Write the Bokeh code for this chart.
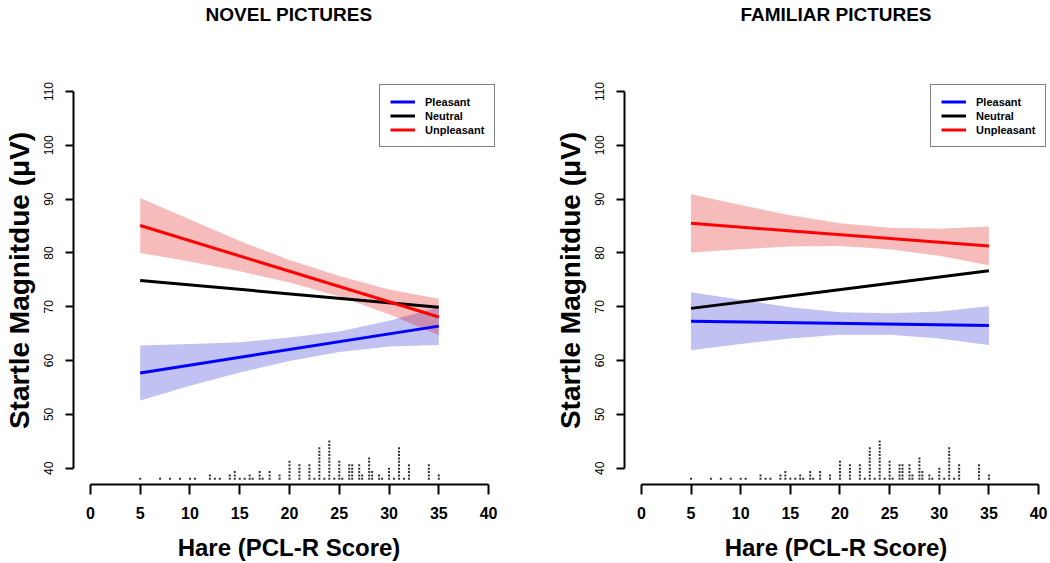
from bokeh.plotting import figure
from bokeh.layouts import row
from bokeh.models import Range1d, Legend, LegendItem, FixedTicker, LinearAxis
from bokeh.embed import file_html
from bokeh.resources import INLINE

# ---------------- data ----------------
line_x = [5, 35]
band_x = [5, 10, 15, 20, 25, 30, 35]

# NOVEL PICTURES
novel_pleasant = [57.7, 66.4]
novel_neutral = [74.9, 69.9]
novel_unpleasant = [85.1, 68.1]
novel_pleasant_lo = [52.6, 55.3, 57.8, 59.9, 61.6, 62.6, 62.9]
novel_pleasant_hi = [62.8, 63.1, 63.4, 64.3, 65.4, 67.4, 69.9]
novel_unpleasant_lo = [80.0, 78.4, 76.6, 74.5, 71.9, 68.6, 64.7]
novel_unpleasant_hi = [90.2, 86.2, 82.2, 78.7, 75.7, 73.2, 71.5]

# FAMILIAR PICTURES
fam_pleasant = [67.3, 66.5]
fam_neutral = [69.7, 76.7]
fam_unpleasant = [85.5, 81.3]
fam_pleasant_lo = [61.9, 63.1, 64.1, 64.8, 64.8, 64.1, 62.9]
fam_pleasant_hi = [72.7, 71.3, 69.9, 69.0, 68.8, 69.1, 70.1]
fam_unpleasant_lo = [80.1, 80.7, 81.2, 81.3, 80.7, 79.5, 77.7]
fam_unpleasant_hi = [90.9, 88.9, 87.0, 85.5, 84.7, 84.5, 84.9]

# PCL-R score distribution (stacked dots)
rug_scores = [5, 7, 8, 9, 10, 10.5, 12, 12.5, 13, 14, 14.5, 15, 15.5, 16, 16.3,
              17, 17.3, 18, 19, 20, 21, 22, 22.5, 23, 23.5, 24, 24.5, 25, 25.3,
              26, 26.3, 27, 27.3, 28, 28.3, 29, 29.3, 30, 30.5, 31, 31.5, 32, 34, 35]
rug_counts = [1, 1, 1, 1, 1, 1, 2, 1, 1, 2, 3, 1, 1, 2, 1,
              3, 1, 3, 2, 6, 5, 5, 1, 10, 1, 12, 1, 6, 1,
              5, 5, 5, 2, 7, 3, 2, 1, 4, 1, 10, 1, 5, 5, 2]

x_ticks = [0, 5, 10, 15, 20, 25, 30, 35, 40]
y_ticks = [40, 50, 60, 70, 80, 90, 100, 110]
legend_labels = ["Pleasant", "Neutral", "Unpleasant"]

FONT = "Liberation Sans"
H = 563
Y0, Y1 = 36.97, 112.79


def make_panel(title, width, mbl, mbr, x_end, pl, ne, un, pl_lo, pl_hi, un_lo, un_hi):
    x0 = -1.7
    p = figure(width=width, height=H, output_backend="svg", toolbar_location=None,
               x_range=Range1d(x0, x_end), y_range=Range1d(Y0, Y1),
               min_border_left=mbl, min_border_right=mbr,
               min_border_top=76, min_border_bottom=79)
    p.outline_line_color = None
    p.grid.visible = False
    p.background_fill_color = "white"
    p.border_fill_color = "white"

    # title: label of an empty axis above the frame
    ta = LinearAxis(ticker=FixedTicker(ticks=[]), axis_label=title)
    ta.axis_line_color = None
    ta.major_tick_line_color = None
    ta.minor_tick_line_color = None
    ta.major_tick_out = 0
    ta.major_tick_in = 0
    ta.major_label_standoff = 0
    ta.axis_label_standoff = 52
    ta.axis_label_text_font = FONT
    ta.axis_label_text_font_size = "19px"
    ta.axis_label_text_font_style = "bold"
    ta.axis_label_text_color = "black"
    p.add_layout(ta, "above")

    # bands
    p.varea(x=band_x, y1=pl_lo, y2=pl_hi, fill_color="#2020D0", fill_alpha=0.28)
    p.varea(x=band_x, y1=un_lo, y2=un_hi, fill_color="#E01010", fill_alpha=0.28)

    rn = p.line(line_x, ne, line_color="black", line_width=3)
    rp = p.line(line_x, pl, line_color="blue", line_width=3)
    ru = p.line(line_x, un, line_color="red", line_width=3)

    # stacked dots of PCL-R scores
    base, step = 38.03, 0.63
    rx, ry = [], []
    for s, c in zip(rug_scores, rug_counts):
        for k in range(c):
            rx.append(s)
            ry.append(base + k * step)
    p.scatter(rx, ry, marker="square", size=2, fill_color="#333333",
              line_color=None)

    # axes
    xa = p.below[0]
    xa.ticker = FixedTicker(ticks=x_ticks)
    xa.bounds = (0, 40)
    xa.axis_line_width = 2
    xa.major_tick_line_width = 2
    xa.major_tick_out = 10
    xa.major_tick_in = 0
    xa.minor_tick_line_color = None
    xa.major_label_text_font = FONT
    xa.major_label_text_font_size = "16px"
    xa.major_label_text_font_style = "bold"
    xa.major_label_text_color = "black"
    xa.major_label_standoff = 12
    xa.axis_label = "Hare (PCL-R Score)"
    xa.axis_label_text_font = FONT
    xa.axis_label_text_font_size = "24px"
    xa.axis_label_text_font_style = "bold"
    xa.axis_label_text_color = "black"
    xa.axis_label_standoff = 12

    ya = p.left[0]
    ya.ticker = FixedTicker(ticks=y_ticks)
    ya.bounds = (40, 110)
    ya.axis_line_width = 2
    ya.major_tick_line_width = 2
    ya.major_tick_out = 8
    ya.major_tick_in = 0
    ya.minor_tick_line_color = None
    ya.major_label_orientation = "vertical"
    ya.major_label_text_font = FONT
    ya.major_label_text_font_size = "12px"
    ya.major_label_text_color = "black"
    ya.major_label_standoff = 12
    ya.axis_label = "Startle Magnitdue (\u03bcV)"
    ya.axis_label_text_font = FONT
    ya.axis_label_text_font_size = "28px"
    ya.axis_label_text_font_style = "bold"
    ya.axis_label_text_color = "black"
    ya.axis_label_standoff = 7

    legend = Legend(items=[LegendItem(label=legend_labels[0], renderers=[rp]),
                           LegendItem(label=legend_labels[1], renderers=[rn]),
                           LegendItem(label=legend_labels[2], renderers=[ru])],
                    location=(306, 337))
    legend.label_text_font = FONT
    legend.label_text_font_size = "11px"
    legend.label_text_font_style = "bold"
    legend.label_text_color = "black"
    legend.glyph_width = 25
    legend.glyph_height = 13
    legend.label_height = 13
    legend.spacing = 1
    legend.padding = 10
    legend.label_standoff = 10
    legend.margin = 0
    legend.border_line_color = "black"
    legend.border_line_width = 1.5
    legend.background_fill_color = "white"
    legend.background_fill_alpha = 1.0
    p.add_layout(legend)
    return p


p1 = make_panel("NOVEL PICTURES", 551, 72, 47, 41.6,
                novel_pleasant, novel_neutral, novel_unpleasant,
                novel_pleasant_lo, novel_pleasant_hi,
                novel_unpleasant_lo, novel_unpleasant_hi)
p2 = make_panel("FAMILIAR PICTURES", 499, 72, 3, 40.9,
                fam_pleasant, fam_neutral, fam_unpleasant,
                fam_pleasant_lo, fam_pleasant_hi,
                fam_unpleasant_lo, fam_unpleasant_hi)

layout = row(p1, p2)
open("out.html", "w").write(file_html(layout, INLINE))
